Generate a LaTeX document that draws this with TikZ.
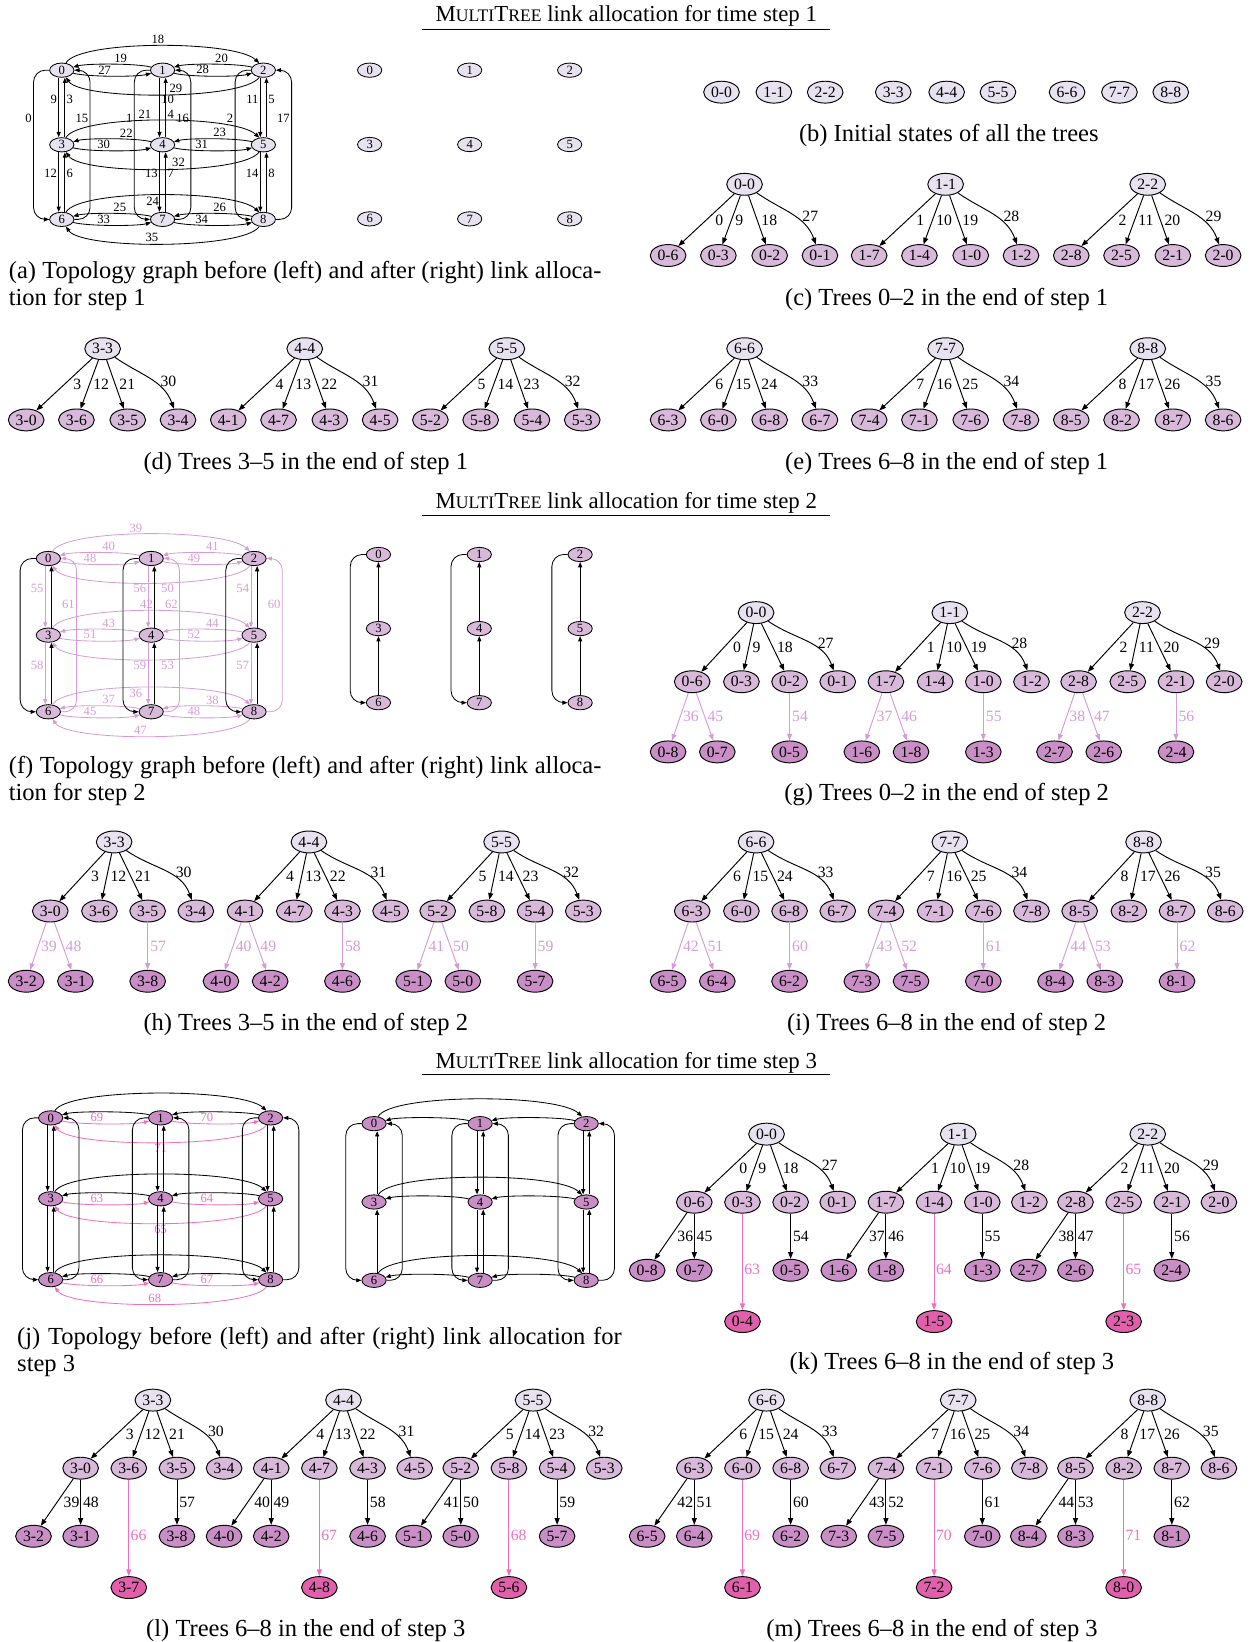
\documentclass[tikz,border=0pt]{standalone}
\usepackage{fontspec}
\setmainfont{Liberation Serif}
\usetikzlibrary{arrows.meta,shapes.geometric,positioning}

\definecolor{lvzero}{RGB}{232,226,240}
\definecolor{lvone}{RGB}{216,185,218}
\definecolor{lvtwo}{RGB}{201,142,198}
\definecolor{lvthree}{RGB}{224,96,172}
\definecolor{pinktwo}{RGB}{214,156,214}
\definecolor{pinkthree}{RGB}{238,112,190}

\newcommand{\mtname}{M{\fontsize{7.4}{9}\selectfont ULTI}T{\fontsize{7.4}{9}\selectfont REE}}

\tikzset{
  gnode/.style={ellipse,draw,line width=.35pt,inner sep=0pt,minimum width=10.2pt,minimum height=6pt,font=\fontsize{5.3}{6}\selectfont},
  tnode/.style={ellipse,draw,line width=.4pt,inner sep=0pt,minimum width=15pt,minimum height=9.2pt,font=\fontsize{6.6}{7.5}\selectfont},
  lnk/.style={-{Triangle[length=2.2pt,width=1.7pt]},line width=.35pt},
  tlnk/.style={-{Triangle[length=2.8pt,width=2.1pt]},line width=.4pt},
  glab/.style={font=\fontsize{5.3}{6}\selectfont,inner sep=.6pt},
  tlab/.style={font=\fontsize{6.6}{7.5}\selectfont,inner sep=.6pt},
  captext/.style={font=\fontsize{10.3}{11.4}\selectfont,inner sep=0pt},
  hdtext/.style={font=\fontsize{9.6}{12}\selectfont,inner sep=0pt},
  hr/.style={to path={(\tikztostart.-15) .. controls +(-15:14) and +(195:14) .. (\tikztotarget.195) \tikztonodes}},
  hl/.style={to path={(\tikztostart.165) .. controls +(165:14) and +(15:14) .. (\tikztotarget.15) \tikztonodes}},
  wt/.style={to path={(\tikztostart.60) .. controls +(12,22) and +(-24,22) .. (\tikztotarget.120) \tikztonodes}},
  wb/.style={to path={(\tikztostart.-120) .. controls +(-15,-22) and +(15,-22) .. (\tikztotarget.-60) \tikztonodes}},
  wl/.style={to path={[rounded corners=5pt] (\tikztostart.west) -- ++(-15,0) |- (\tikztotarget.west) \tikztonodes}},
  wr/.style={to path={[rounded corners=5pt] (\tikztostart.east) -- ++(15,0) |- (\tikztotarget.east) \tikztonodes}},
  vd/.style={to path={([xshift=-1.3pt]\tikztostart.south) -- ([xshift=-1.3pt]\tikztotarget.north) \tikztonodes}},
  vu/.style={to path={([xshift=1.3pt]\tikztostart.north) -- ([xshift=1.3pt]\tikztotarget.south) \tikztonodes}},
}

% one tree: #1 prefix, #2 step, #3 x of first child, #4 y of root, #5 tree
\newcommand{\mtree}[5]{%
  \pgfmathtruncatemacro{\qr}{int(#5/3)}%
  \pgfmathtruncatemacro{\qc}{mod(#5,3)}%
  \pgfmathtruncatemacro{\qU}{3*mod(\qr+2,3)+\qc}%
  \pgfmathtruncatemacro{\qD}{3*mod(\qr+1,3)+\qc}%
  \pgfmathtruncatemacro{\qL}{3*\qr+mod(\qc+2,3)}%
  \pgfmathtruncatemacro{\qR}{3*\qr+mod(\qc+1,3)}%
  \pgfmathtruncatemacro{\qUL}{3*mod(\qr+2,3)+mod(\qc+2,3)}%
  \pgfmathtruncatemacro{\qUR}{3*mod(\qr+2,3)+mod(\qc+1,3)}%
  \pgfmathtruncatemacro{\qLD}{3*mod(\qr+1,3)+mod(\qc+2,3)}%
  \pgfmathtruncatemacro{\qDR}{3*mod(\qr+1,3)+mod(\qc+1,3)}%
  \pgfmathtruncatemacro{\qnb}{#5+9}%
  \pgfmathtruncatemacro{\qnc}{#5+18}%
  \pgfmathtruncatemacro{\qnd}{#5+27}%
  \pgfmathtruncatemacro{\qne}{#5+36}%
  \pgfmathtruncatemacro{\qnf}{#5+45}%
  \pgfmathtruncatemacro{\qng}{#5+54}%
  \pgfmathtruncatemacro{\qnh}{#5+63}%
  \ifcase#2\or
    \def\qx{73}\def\qa{48}\def\qb{97}\def\qd{145}\def\qh{68}%
  \or
    \def\qx{61}\def\qa{47}\def\qb{93}\def\qd{139}\def\qh{66}%
  \or
    \def\qx{69}\def\qa{46}\def\qb{92}\def\qd{137}\def\qh{65}%
  \fi
  \begin{scope}[shift={(#3,-#4)}]
    \node[tnode,fill=lvzero] (#1#5-#5) at (\qx,0) {#5-#5};
    \node[tnode,fill=lvone] (#1#5-\qU) at (0,-\qh) {#5-\qU};
    \node[tnode,fill=lvone] (#1#5-\qD) at (\qa,-\qh) {#5-\qD};
    \node[tnode,fill=lvone] (#1#5-\qL) at (\qb,-\qh) {#5-\qL};
    \node[tnode,fill=lvone] (#1#5-\qR) at (\qd,-\qh) {#5-\qR};
    \draw[tlnk] (#1#5-#5) -- node[tlab,right=3pt]{#5} (#1#5-\qU);
    \draw[tlnk] (#1#5-#5) -- node[tlab,right=.8pt]{\qnb} (#1#5-\qD);
    \draw[tlnk] (#1#5-#5) -- node[tlab,right=1pt]{\qnc} (#1#5-\qL);
    \draw[tlnk] (#1#5-#5) to[out=-35,in=110] node[tlab,pos=.55,right=2.4pt]{\qnd} (#1#5-\qR);
    \ifnum#2=2
      \node[tnode,fill=lvtwo] (#1#5-\qUL) at (-23,-133) {#5-\qUL};
      \node[tnode,fill=lvtwo] (#1#5-\qUR) at (24,-133) {#5-\qUR};
      \node[tnode,fill=lvtwo] (#1#5-\qLD) at (\qb,-133) {#5-\qLD};
      \draw[tlnk,pinktwo] (#1#5-\qU) -- node[tlab,right=.4pt]{\qne} (#1#5-\qUL);
      \draw[tlnk,pinktwo] (#1#5-\qU) -- node[tlab,right=.4pt]{\qnf} (#1#5-\qUR);
      \draw[tlnk,pinktwo] (#1#5-\qL) -- node[tlab,right=.3pt]{\qng} (#1#5-\qLD);
    \fi
    \ifnum#2=3
      \node[tnode,fill=lvtwo] (#1#5-\qUL) at (-45,-130) {#5-\qUL};
      \node[tnode,fill=lvtwo] (#1#5-\qUR) at (0,-130) {#5-\qUR};
      \node[tnode,fill=lvtwo] (#1#5-\qLD) at (\qb,-130) {#5-\qLD};
      \node[tnode,fill=lvthree] (#1#5-\qDR) at (\qa,-179) {#5-\qDR};
      \draw[tlnk] (#1#5-\qU) -- node[tlab,right=2pt]{\qne} (#1#5-\qUL);
      \draw[tlnk] (#1#5-\qU) -- node[tlab,right=.2pt]{\qnf} (#1#5-\qUR);
      \draw[tlnk] (#1#5-\qL) -- node[tlab,right=.2pt]{\qng} (#1#5-\qLD);
      \draw[tlnk,pinkthree] (#1#5-\qD) -- node[tlab,pos=.58,right=0pt]{\qnh} (#1#5-\qDR);
    \fi
  \end{scope}%
}

\begin{document}
\begin{tikzpicture}[x=0.44pt,y=0.44pt]
\useasboundingbox (0,0) rectangle (1195,-1568);

% ---- time step 1
\node[hdtext] (hdone) at (598,-15.5) {\mtname{} link allocation for time step 1};
\draw[line width=.4pt] (403,-28) -- (793,-28);

% (a) topology before
\foreach \i in {0,...,8}
  \node[gnode,fill=lvzero] (a\i) at ({59+96.25*mod(\i,3)},{-67-71.25*int(\i/3)}) {\i};
\draw[lnk] (a0) to[hr] node[glab,pos=.42,above]{27} (a1);
\draw[lnk] (a1) to[hl] node[glab,pos=.41,above]{19} (a0);
\draw[lnk] (a1) to[hr] node[glab,pos=.39,above]{28} (a2);
\draw[lnk] (a2) to[hl] node[glab,pos=.41,above]{20} (a1);
\draw[lnk] (a0) to[wt] node[glab,pos=.5,above]{18} (a2);
\draw[lnk] (a2) to[wb] node[glab,pos=.45,above]{29} (a0);
\draw[lnk] (a3) to[hr] node[glab,pos=.41,above]{30} (a4);
\draw[lnk] (a4) to[hl] node[glab,pos=.35,above]{22} (a3);
\draw[lnk] (a4) to[hr] node[glab,pos=.38,above]{31} (a5);
\draw[lnk] (a5) to[hl] node[glab,pos=.43,above]{23} (a4);
\draw[lnk] (a3) to[wt] node[glab,pos=.45,above]{21} (a5);
\draw[lnk] (a5) to[wb] node[glab,pos=.44,above]{32} (a3);
\draw[lnk] (a6) to[hr] node[glab,pos=.41,above]{33} (a7);
\draw[lnk] (a7) to[hl] node[glab,pos=.42,above]{25} (a6);
\draw[lnk] (a7) to[hr] node[glab,pos=.38,above]{34} (a8);
\draw[lnk] (a8) to[hl] node[glab,pos=.43,above]{26} (a7);
\draw[lnk] (a6) to[wt] node[glab,pos=.48,below]{24} (a8);
\draw[lnk] (a8) to[wb] node[glab,pos=.54,above]{35} (a6);
\draw[lnk] (a0) to[vd] node[glab,pos=.36,left]{9} (a3);
\draw[lnk] (a3) to[vu] node[glab,pos=.64,right]{3} (a0);
\draw[lnk] (a3) to[vd] node[glab,pos=.36,left]{12} (a6);
\draw[lnk] (a6) to[vu] node[glab,pos=.64,right]{6} (a3);
\draw[lnk] (a0) to[wl] node[glab,pos=.16,left]{0} (a6);
\draw[lnk] (a6) to[wr] node[glab,pos=.34,left]{15} (a0);
\draw[lnk] (a1) to[vd] node[glab,pos=.36,right]{10} (a4);
\draw[lnk] (a4) to[vu] node[glab,pos=.38,right]{4} (a1);
\draw[lnk] (a4) to[vd] node[glab,pos=.36,left]{13} (a7);
\draw[lnk] (a7) to[vu] node[glab,pos=.64,right]{7} (a4);
\draw[lnk] (a1) to[wl] node[glab,pos=.16,left]{1} (a7);
\draw[lnk] (a7) to[wr] node[glab,pos=.34,left]{16} (a1);
\draw[lnk] (a2) to[vd] node[glab,pos=.36,left]{11} (a5);
\draw[lnk] (a5) to[vu] node[glab,pos=.64,right]{5} (a2);
\draw[lnk] (a5) to[vd] node[glab,pos=.36,left]{14} (a8);
\draw[lnk] (a8) to[vu] node[glab,pos=.64,right]{8} (a5);
\draw[lnk] (a2) to[wl] node[glab,pos=.16,left]{2} (a8);
\draw[lnk] (a8) to[wr] node[glab,pos=.34,left]{17} (a2);

% (a) topology after
\foreach \i in {0,...,8}
  \node[gnode,fill=lvzero] (ar\i) at ({353+95.5*mod(\i,3)},{-67-71*int(\i/3)}) {\i};

% (b) initial states
\foreach \i/\x in {0/689,1/739,2/788,3/853,4/904,5/953,6/1019,7/1069,8/1118}
  \node[tnode,fill=lvzero] (b\i) at (\x,-88) {\i-\i};

% (c)-(e) trees after step 1
\mtree{c}{1}{638}{176}{0}
\mtree{c}{1}{830}{176}{1}
\mtree{c}{1}{1023}{176}{2}
\mtree{d}{1}{25}{333}{3}
\mtree{d}{1}{218}{333}{4}
\mtree{d}{1}{411}{333}{5}
\mtree{e}{1}{638}{333}{6}
\mtree{e}{1}{830}{333}{7}
\mtree{e}{1}{1023}{333}{8}

\node[captext,anchor=north west,text width=249pt,align=justify] (capa) at (8,-249)
  {(a) Topology graph before (left) and after (right) link alloca-\linebreak tion for step 1};
\node[captext] (capb) at (906,-129) {(b) Initial states of all the trees};
\node[captext] (capc) at (904,-286) {(c) Trees 0--2 in the end of step 1};
\node[captext] (capd) at (292,-443) {(d) Trees 3--5 in the end of step 1};
\node[captext] (cape) at (904,-443) {(e) Trees 6--8 in the end of step 1};

% ---- time step 2
\node[hdtext] (hdtwo) at (598,-480.5) {\mtname{} link allocation for time step 2};
\draw[line width=.4pt] (403,-492) -- (793,-492);

% (f) topology before
\foreach \i in {0,...,8}
  \node[gnode,fill=lvone] (f\i) at ({46.2+98.2*mod(\i,3)},{-533.3-73.2*int(\i/3)}) {\i};
\draw[lnk,pinktwo] (f0) to[hr] node[glab,pos=.40,above]{48} (f1);
\draw[lnk,pinktwo] (f1) to[hl] node[glab,pos=.41,above]{40} (f0);
\draw[lnk,pinktwo] (f1) to[hr] node[glab,pos=.41,above]{49} (f2);
\draw[lnk,pinktwo] (f2) to[hl] node[glab,pos=.40,above]{41} (f1);
\draw[lnk,pinktwo] (f0) to[wt] node[glab,pos=.46,above]{39} (f2);
\draw[lnk,pinktwo] (f2) to[wb] node[glab,pos=.44,below]{50} (f0);
\draw[lnk,pinktwo] (f3) to[hr] node[glab,pos=.40,above]{51} (f4);
\draw[lnk,pinktwo] (f4) to[hl] node[glab,pos=.41,above]{43} (f3);
\draw[lnk,pinktwo] (f4) to[hr] node[glab,pos=.41,above]{52} (f5);
\draw[lnk,pinktwo] (f5) to[hl] node[glab,pos=.40,above]{44} (f4);
\draw[lnk,pinktwo] (f3) to[wt] node[glab,pos=.5,above]{42} (f5);
\draw[lnk,pinktwo] (f5) to[wb] node[glab,pos=.44,below]{53} (f3);
\draw[lnk,pinktwo] (f6) to[hr] node[glab,pos=.40,above]{45} (f7);
\draw[lnk,pinktwo] (f7) to[hl] node[glab,pos=.41,above]{37} (f6);
\draw[lnk,pinktwo] (f7) to[hr] node[glab,pos=.41,above]{48} (f8);
\draw[lnk,pinktwo] (f8) to[hl] node[glab,pos=.40,above]{38} (f7);
\draw[lnk,pinktwo] (f6) to[wt] node[glab,pos=.46,below]{36} (f8);
\draw[lnk,pinktwo] (f8) to[wb] node[glab,pos=.54,above]{47} (f6);
\draw[lnk,pinktwo] (f0) to[vd] node[glab,pos=.37,left]{55} (f3);
\draw[lnk] (f3) to[vu] (f0);
\draw[lnk,pinktwo] (f3) to[vd] node[glab,pos=.37,left]{58} (f6);
\draw[lnk] (f6) to[vu] (f3);
\draw[lnk] (f0) to[wl] (f6);
\draw[lnk,pinktwo] (f6) to[wr] node[glab,pos=.35,left]{61} (f0);
\draw[lnk,pinktwo] (f1) to[vd] node[glab,pos=.37,left]{56} (f4);
\draw[lnk] (f4) to[vu] (f1);
\draw[lnk,pinktwo] (f4) to[vd] node[glab,pos=.37,left]{59} (f7);
\draw[lnk] (f7) to[vu] (f4);
\draw[lnk] (f1) to[wl] (f7);
\draw[lnk,pinktwo] (f7) to[wr] node[glab,pos=.35,left]{62} (f1);
\draw[lnk,pinktwo] (f2) to[vd] node[glab,pos=.37,left]{54} (f5);
\draw[lnk] (f5) to[vu] (f2);
\draw[lnk,pinktwo] (f5) to[vd] node[glab,pos=.37,left]{57} (f8);
\draw[lnk] (f8) to[vu] (f5);
\draw[lnk] (f2) to[wl] (f8);
\draw[lnk,pinktwo] (f8) to[wr] node[glab,pos=.35,left]{60} (f2);

% (f) topology after
\foreach \i in {0,...,8}
  \node[gnode,fill=lvone] (fr\i) at ({361.4+96.3*mod(\i,3)},{-529.5-70.75*int(\i/3)}) {\i};
\draw[lnk] (fr3) -- (fr0);
\draw[lnk] (fr6) -- (fr3);
\draw[lnk] (fr0) to[wl] (fr6);
\draw[lnk] (fr4) -- (fr1);
\draw[lnk] (fr7) -- (fr4);
\draw[lnk] (fr1) to[wl] (fr7);
\draw[lnk] (fr5) -- (fr2);
\draw[lnk] (fr8) -- (fr5);
\draw[lnk] (fr2) to[wl] (fr8);

% (g)-(i) trees after step 2
\mtree{g}{2}{661}{585}{0}
\mtree{g}{2}{846}{585}{1}
\mtree{g}{2}{1030}{585}{2}
\mtree{h}{2}{48}{804}{3}
\mtree{h}{2}{234}{804}{4}
\mtree{h}{2}{418}{804}{5}
\mtree{i}{2}{661}{804}{6}
\mtree{i}{2}{846}{804}{7}
\mtree{i}{2}{1031}{804}{8}

\node[captext,anchor=north west,text width=249pt,align=justify] (capf) at (8,-722)
  {(f) Topology graph before (left) and after (right) link alloca-\linebreak tion for step 2};
\node[captext] (capg) at (904,-759) {(g) Trees 0--2 in the end of step 2};
\node[captext] (caph) at (292,-978) {(h) Trees 3--5 in the end of step 2};
\node[captext] (capi) at (904,-978) {(i) Trees 6--8 in the end of step 2};

% ---- time step 3
\node[hdtext] (hdthree) at (598,-1014.5) {\mtname{} link allocation for time step 3};
\draw[line width=.4pt] (403,-1026) -- (793,-1026);

% (j) topology before
\foreach \i in {0,...,8}
  \node[gnode,fill=lvtwo] (j\i) at ({48.4+105*mod(\i,3)},{-1067.5-77.25*int(\i/3)}) {\i};
\draw[lnk,pinkthree] (j0) to[hr] node[glab,pos=.42,above]{69} (j1);
\draw[lnk] (j1) to[hl] (j0);
\draw[lnk,pinkthree] (j1) to[hr] node[glab,pos=.42,above]{70} (j2);
\draw[lnk] (j2) to[hl] (j1);
\draw[lnk] (j0) to[wt] (j2);
\draw[lnk,pinkthree] (j2) to[wb] node[glab,pos=.5,below]{71} (j0);
\draw[lnk,pinkthree] (j3) to[hr] node[glab,pos=.42,above]{63} (j4);
\draw[lnk] (j4) to[hl] (j3);
\draw[lnk,pinkthree] (j4) to[hr] node[glab,pos=.42,above]{64} (j5);
\draw[lnk] (j5) to[hl] (j4);
\draw[lnk] (j3) to[wt] (j5);
\draw[lnk,pinkthree] (j5) to[wb] node[glab,pos=.5,below]{65} (j3);
\draw[lnk,pinkthree] (j6) to[hr] node[glab,pos=.42,above]{66} (j7);
\draw[lnk] (j7) to[hl] (j6);
\draw[lnk,pinkthree] (j7) to[hr] node[glab,pos=.42,above]{67} (j8);
\draw[lnk] (j8) to[hl] (j7);
\draw[lnk] (j6) to[wt] (j8);
\draw[lnk,pinkthree] (j8) to[wb] node[glab,pos=.52,above]{68} (j6);
\foreach \pa/\pb/\pc in {0/3/6,1/4/7,2/5/8} {
  \draw[lnk] (j\pa) to[vd] (j\pb);
  \draw[lnk] (j\pb) to[vu] (j\pa);
  \draw[lnk] (j\pb) to[vd] (j\pc);
  \draw[lnk] (j\pc) to[vu] (j\pb);
  \draw[lnk] (j\pa) to[wl] (j\pc);
  \draw[lnk] (j\pc) to[wr] (j\pa);
}

% (j) topology after
\foreach \i in {0,...,8}
  \node[gnode,fill=lvtwo] (jr\i) at ({357.2+101.3*mod(\i,3)},{-1073-74.8*int(\i/3)}) {\i};
\draw[lnk] (jr1) to[hl] (jr0);
\draw[lnk] (jr2) to[hl] (jr1);
\draw[lnk] (jr0) to[wt] (jr2);
\draw[lnk] (jr4) to[hl] (jr3);
\draw[lnk] (jr5) to[hl] (jr4);
\draw[lnk] (jr3) to[wt] (jr5);
\draw[lnk] (jr7) to[hl] (jr6);
\draw[lnk] (jr8) to[hl] (jr7);
\draw[lnk] (jr6) to[wt] (jr8);
\draw[lnk] (jr3) to[vu] (jr0);
\draw[lnk] (jr6) to[vu] (jr3);
\draw[lnk] (jr0) to[wl] (jr6);
\draw[lnk] (jr6) to[wr] (jr0);
\foreach \pa/\pb/\pc in {1/4/7,2/5/8} {
  \draw[lnk] (jr\pa) to[vd] (jr\pb);
  \draw[lnk] (jr\pb) to[vu] (jr\pa);
  \draw[lnk] (jr\pb) to[vd] (jr\pc);
  \draw[lnk] (jr\pc) to[vu] (jr\pb);
  \draw[lnk] (jr\pa) to[wl] (jr\pc);
  \draw[lnk] (jr\pc) to[wr] (jr\pa);
}

% (k)-(m) trees after step 3
\mtree{k}{3}{663}{1083}{0}
\mtree{k}{3}{846}{1083}{1}
\mtree{k}{3}{1027}{1083}{2}
\mtree{l}{3}{77}{1337}{3}
\mtree{l}{3}{259}{1337}{4}
\mtree{l}{3}{440}{1337}{5}
\mtree{m}{3}{663}{1337}{6}
\mtree{m}{3}{846}{1337}{7}
\mtree{m}{3}{1027}{1337}{8}

\node[captext,anchor=north west,text width=254pt,align=justify] (capj) at (16,-1267)
  {(j) Topology before (left) and after (right) link allocation for\linebreak step 3};
\node[captext] (capk) at (909,-1302) {(k) Trees 6--8 in the end of step 3};
\node[captext] (capl) at (292,-1557) {(l) Trees 6--8 in the end of step 3};
\node[captext] (capm) at (890,-1557) {(m) Trees 6--8 in the end of step 3};
\end{tikzpicture}
\end{document}
